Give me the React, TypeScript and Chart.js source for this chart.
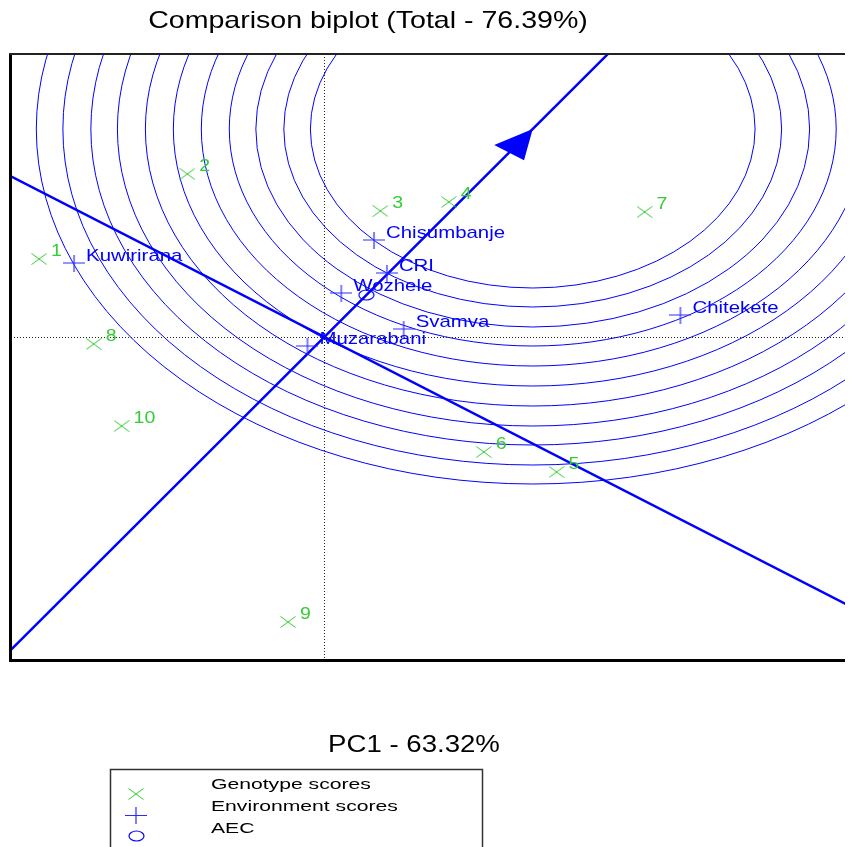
import React, { useEffect, useRef } from 'react';
import { Chart, registerables } from 'chart.js';

Chart.register(...registerables);

const TITLE = 'Comparison biplot (Total - 76.39%)';
const X_TITLE = 'PC1 - 63.32%';

const genotypeLabels = ['1', '2', '3', '4', '5', '6', '7', '8', '9', '10'];
const genotypeX = [-2.04, -0.98, 0.40, 0.89, 1.66, 1.14, 2.29, -1.65, -0.26, -1.45];
const genotypeY = [0.78, 1.63, 1.26, 1.35, -1.35, -1.15, 1.25, -0.07, -2.85, -0.89];

const environmentLabels = ['Kuwirirana', 'Chisumbanje', 'CRI', 'Wozhele', 'Svamva', 'Muzarabani', 'Chitekete'];
const environmentX = [-1.79, 0.355, 0.447, 0.121, 0.567, -0.121, 2.546];
const environmentY = [0.74, 0.97, 0.64, 0.44, 0.08, -0.09, 0.22];

const aecPoint = [0.30, 0.42];
const idealPoint = [1.49, 2.08];
const circleRadii = [1.59, 1.78, 1.98, 2.17, 2.37, 2.57, 2.77, 2.97, 3.16, 3.36, 3.55];

const legendLabels = ['Genotype scores', 'Environment scores', 'AEC'];

const X_MIN = -2.241;
const X_MAX = 3.723;
const Y_MIN = -3.23;
const Y_MAX = 2.83;

const BLUE = '#0000ff';
const GREEN = '#33cc33';
const FONT = '"Liberation Sans", Arial, sans-serif';

function makeCross(): HTMLCanvasElement {
  const c = document.createElement('canvas');
  c.width = 16; c.height = 12;
  const g = c.getContext('2d')!;
  g.strokeStyle = GREEN; g.lineWidth = 1;
  g.beginPath();
  g.moveTo(0.5, 0.5); g.lineTo(15.5, 11.5);
  g.moveTo(15.5, 0.5); g.lineTo(0.5, 11.5);
  g.stroke();
  return c;
}
function makePlus(): HTMLCanvasElement {
  const c = document.createElement('canvas');
  c.width = 22; c.height = 17;
  const g = c.getContext('2d')!;
  g.strokeStyle = '#2a2aff'; g.lineWidth = 1.2;
  g.beginPath();
  g.moveTo(0, 8.5); g.lineTo(22, 8.5);
  g.moveTo(11, 0); g.lineTo(11, 17);
  g.stroke();
  return c;
}
function makeRing(): HTMLCanvasElement {
  const c = document.createElement('canvas');
  c.width = 17; c.height = 12;
  const g = c.getContext('2d')!;
  g.strokeStyle = BLUE; g.lineWidth = 1.2;
  g.beginPath();
  g.ellipse(8.5, 6, 7.5, 5, 0, 0, Math.PI * 2);
  g.stroke();
  return c;
}

function drawText(ctx: CanvasRenderingContext2D, text: string, x: number, y: number, size: number, hScale: number, color: string, align: CanvasTextAlign = 'left') {
  ctx.save();
  ctx.font = `${size}px ${FONT}`;
  ctx.fillStyle = color;
  ctx.textAlign = align;
  ctx.textBaseline = 'alphabetic';
  ctx.translate(x, y);
  ctx.scale(hScale, 1);
  ctx.fillText(text, 0, 0);
  ctx.restore();
}

export default function App() {
  const ref = useRef<HTMLCanvasElement | null>(null);

  useEffect(() => {
    if (!ref.current) return;
    const crossImg = makeCross();
    const plusImg = makePlus();
    const ringImg = makeRing();

    const biplotPlugin = {
      id: 'biplot',
      beforeDatasetsDraw(chart: any) {
        const { ctx, chartArea: a } = chart;
        const xs = chart.scales.x;
        const ys = chart.scales.y;
        const P = (dx: number, dy: number) => [xs.getPixelForValue(dx), ys.getPixelForValue(dy)];
        ctx.save();
        ctx.beginPath();
        ctx.rect(a.left, a.top, a.right - a.left, a.bottom - a.top);
        ctx.clip();
        // concentric circles around the ideal genotype
        const [cx, cy] = P(idealPoint[0], idealPoint[1]);
        ctx.strokeStyle = BLUE;
        ctx.lineWidth = 1;
        circleRadii.forEach((r) => {
          const rx = xs.getPixelForValue(idealPoint[0] + r) - cx;
          const ry = cy - ys.getPixelForValue(idealPoint[1] + r);
          ctx.beginPath();
          ctx.ellipse(cx, cy, rx, ry, 0, 0, Math.PI * 2);
          ctx.stroke();
        });
        // dotted zero axes
        const [ox, oy] = P(0, 0);
        ctx.setLineDash([1, 2]);
        ctx.strokeStyle = '#222';
        ctx.beginPath();
        ctx.moveTo(Math.round(ox) + 0.5, a.top);
        ctx.lineTo(Math.round(ox) + 0.5, a.bottom);
        ctx.moveTo(a.left, Math.round(oy) + 0.5);
        ctx.lineTo(a.right, Math.round(oy) + 0.5);
        ctx.stroke();
        ctx.setLineDash([]);
        // AEC abscissa and ordinate
        const len = Math.hypot(idealPoint[0], idealPoint[1]);
        const ux = idealPoint[0] / len, uy = idealPoint[1] / len;
        const vx = uy, vy = -ux;
        const ext = 20;
        ctx.strokeStyle = BLUE;
        ctx.lineWidth = 2.5;
        ctx.beginPath();
        let p1 = P(-ext * ux, -ext * uy), p2 = P(ext * ux, ext * uy);
        ctx.moveTo(p1[0], p1[1]); ctx.lineTo(p2[0], p2[1]);
        p1 = P(-ext * vx, -ext * vy); p2 = P(ext * vx, ext * vy);
        ctx.moveTo(p1[0], p1[1]); ctx.lineTo(p2[0], p2[1]);
        ctx.stroke();
        // arrow head at ideal point
        const aLen = 0.29, aHalf = 0.131;
        const bx = idealPoint[0] - aLen * ux, by = idealPoint[1] - aLen * uy;
        const t = P(idealPoint[0], idealPoint[1]);
        const c1 = P(bx + aHalf * vx, by + aHalf * vy);
        const c2 = P(bx - aHalf * vx, by - aHalf * vy);
        ctx.fillStyle = BLUE;
        ctx.beginPath();
        ctx.moveTo(t[0], t[1]); ctx.lineTo(c1[0], c1[1]); ctx.lineTo(c2[0], c2[1]);
        ctx.closePath();
        ctx.fill();
        ctx.restore();
      },
      afterDatasetsDraw(chart: any) {
        const { ctx } = chart;
        const gMeta = chart.getDatasetMeta(0);
        gMeta.data.forEach((pt: any, i: number) => {
          drawText(ctx, genotypeLabels[i], pt.x + 12, pt.y - 3.5, 16, 1.22, GREEN);
        });
        const eMeta = chart.getDatasetMeta(1);
        eMeta.data.forEach((pt: any, i: number) => {
          drawText(ctx, environmentLabels[i], pt.x + 12, pt.y - 2.5, 17, 1.2, BLUE);
        });
      },
      afterDraw(chart: any) {
        const { ctx, chartArea: a } = chart;
        ctx.save();
        // frame (left, top, bottom)
        ctx.strokeStyle = '#000';
        ctx.lineWidth = 3;
        ctx.beginPath();
        ctx.moveTo(a.left - 0.5, a.top - 1);
        ctx.lineTo(a.left - 0.5, a.bottom + 2);
        ctx.moveTo(a.left - 2, a.bottom + 0.5);
        ctx.lineTo(a.right, a.bottom + 0.5);
        ctx.stroke();
        ctx.strokeStyle = '#222';
        ctx.lineWidth = 2;
        ctx.beginPath();
        ctx.moveTo(a.left - 2, a.top);
        ctx.lineTo(a.right, a.top);
        ctx.stroke();
        // titles
        drawText(ctx, TITLE, 368, 28, 24, 1.19, '#000', 'center');
        drawText(ctx, X_TITLE, 414, 752, 24, 1.15, '#000', 'center');
        // legend
        ctx.strokeStyle = '#333';
        ctx.lineWidth = 1.5;
        ctx.strokeRect(110.5, 769.5, 372, 100);
        const legendImgs = [crossImg, plusImg, ringImg];
        const markerY = [794, 815, 836];
        const textY = [789, 811, 833];
        legendLabels.forEach((lab, i) => {
          const img = legendImgs[i];
          ctx.drawImage(img, Math.round(136 - img.width / 2), Math.round(markerY[i] - img.height / 2));
          drawText(ctx, lab, 211, textY[i], 15, 1.41, '#000');
        });
        ctx.restore();
      },
    };

    const chart = new Chart(ref.current, {
      type: 'scatter',
      data: {
        datasets: [
          {
            label: legendLabels[0],
            data: genotypeX.map((v, i) => ({ x: v, y: genotypeY[i] })),
            pointStyle: crossImg as any,
            pointRadius: 6,
            borderColor: GREEN,
            backgroundColor: GREEN,
          },
          {
            label: legendLabels[1],
            data: environmentX.map((v, i) => ({ x: v, y: environmentY[i] })),
            pointStyle: plusImg as any,
            pointRadius: 6,
            borderColor: BLUE,
            backgroundColor: BLUE,
          },
          {
            label: legendLabels[2],
            data: [{ x: aecPoint[0], y: aecPoint[1] }],
            pointStyle: ringImg as any,
            pointRadius: 6,
            borderColor: BLUE,
            backgroundColor: BLUE,
          },
        ],
      },
      options: {
        responsive: false,
        animation: false,
        devicePixelRatio: 1,
        events: [],
        layout: { padding: { left: 11, top: 54, right: 0, bottom: 187 } },
        plugins: {
          legend: { display: false },
          title: { display: false },
          tooltip: { enabled: false },
        },
        scales: {
          x: { type: 'linear', min: X_MIN, max: X_MAX, display: false },
          y: { type: 'linear', min: Y_MIN, max: Y_MAX, display: false },
        },
      },
      plugins: [biplotPlugin],
    });
    return () => chart.destroy();
  }, []);

  return (
    <div style={{ position: 'fixed', left: 0, top: 0, width: 852, height: 847, overflow: 'hidden', background: '#fff' }}>
      <canvas ref={ref} width={852} height={847} style={{ display: 'block', width: 852, height: 847 }} />
    </div>
  );
}
